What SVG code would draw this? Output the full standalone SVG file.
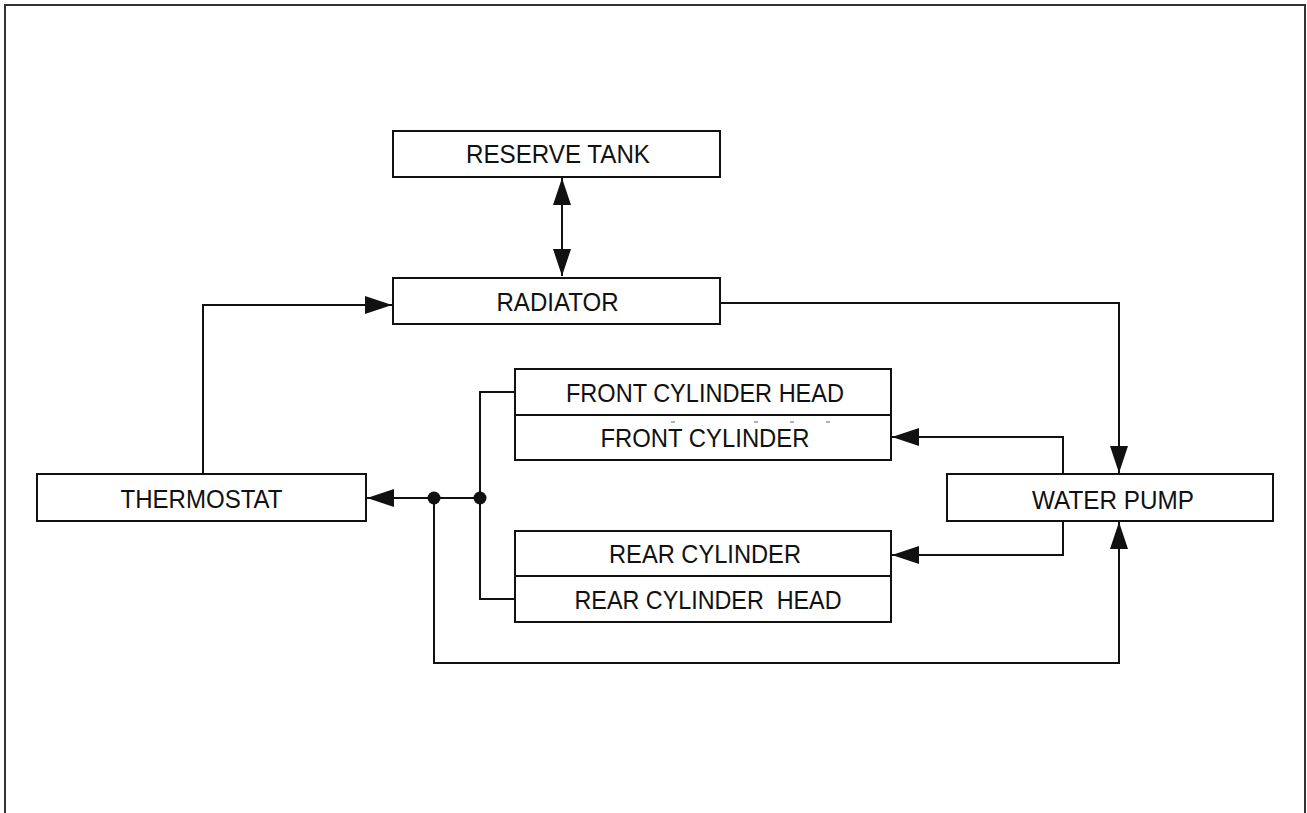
<svg xmlns="http://www.w3.org/2000/svg" width="1307" height="813" viewBox="0 0 1307 813">
<style>
.box{fill:#fff;stroke:#111;stroke-width:2}
.ln{fill:none;stroke:#111;stroke-width:2}
.lbl{font-family:"Liberation Sans",Arial,sans-serif;font-size:26px;fill:#111;text-anchor:middle;white-space:pre}
.frame{fill:none;stroke:#333;stroke-width:2}
.tick{stroke:#666;stroke-width:1}
</style>
<defs>
<marker id="arr" viewBox="0 0 27 18" refX="27" refY="9" markerWidth="27" markerHeight="18" markerUnits="userSpaceOnUse" orient="auto-start-reverse">
<path d="M0,0 L27,9 L0,18 z" fill="#111"/>
</marker>
</defs>
<rect width="1307" height="813" fill="#fff"/>
<path class="frame" d="M5,813 V5 H1305 V813"/>
<g id="connectors">
<path class="ln" d="M562,178 V276" marker-start="url(#arr)" marker-end="url(#arr)"/>
<path class="ln" d="M203,474 V305 H392" marker-end="url(#arr)"/>
<path class="ln" d="M720,303 H1119 V473" marker-end="url(#arr)"/>
<path class="ln" d="M1063,474 V437 H892" marker-end="url(#arr)"/>
<path class="ln" d="M1063,521 V555 H892" marker-end="url(#arr)"/>
<path class="ln" d="M515,392 H480 V599 H515"/>
<path class="ln" d="M480,498 H367" marker-end="url(#arr)"/>
<path class="ln" d="M434,498 V663 H1119 V522" marker-end="url(#arr)"/>
<circle cx="434" cy="498" r="6.5" fill="#111"/>
<circle cx="480" cy="498" r="6.5" fill="#111"/>
</g>
<g id="reserve-tank">
<rect class="box" x="393" y="131" width="327" height="46"/>
<text class="lbl" x="558" y="163" textLength="184" lengthAdjust="spacingAndGlyphs">RESERVE TANK</text>
</g>
<g id="radiator">
<rect class="box" x="393" y="278" width="327" height="46"/>
<text class="lbl" x="557.5" y="311" textLength="122" lengthAdjust="spacingAndGlyphs">RADIATOR</text>
</g>
<g id="thermostat">
<rect class="box" x="37" y="474" width="329" height="47"/>
<text class="lbl" x="201.5" y="508" textLength="162" lengthAdjust="spacingAndGlyphs">THERMOSTAT</text>
</g>
<g id="water-pump">
<rect class="box" x="947" y="474" width="326" height="47"/>
<text class="lbl" x="1113" y="509" textLength="162" lengthAdjust="spacingAndGlyphs">WATER PUMP</text>
</g>
<g id="front-cylinder-head">
<rect class="box" x="515" y="369" width="376" height="46"/>
<text class="lbl" x="705" y="402" textLength="278" lengthAdjust="spacingAndGlyphs">FRONT CYLINDER HEAD</text>
</g>
<g id="front-cylinder">
<rect class="box" x="515" y="415" width="376" height="45"/>
<text class="lbl" x="705" y="447" textLength="209" lengthAdjust="spacingAndGlyphs">FRONT CYLINDER</text>
<line class="tick" x1="671" y1="422" x2="675" y2="422"/>
<line class="tick" x1="754" y1="422" x2="758" y2="422"/>
<line class="tick" x1="790" y1="422" x2="794" y2="422"/>
<line class="tick" x1="826" y1="422" x2="830" y2="422"/>
</g>
<g id="rear-cylinder">
<rect class="box" x="515" y="531" width="376" height="45"/>
<text class="lbl" x="705" y="563" textLength="192" lengthAdjust="spacingAndGlyphs">REAR CYLINDER</text>
</g>
<g id="rear-cylinder-head">
<rect class="box" x="515" y="576" width="376" height="46"/>
<text class="lbl" x="708" y="609" textLength="267" lengthAdjust="spacingAndGlyphs" xml:space="preserve">REAR CYLINDER  HEAD</text>
</g>
</svg>
